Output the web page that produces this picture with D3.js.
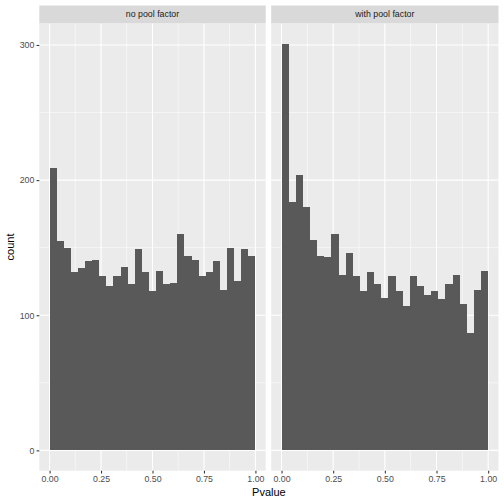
<!doctype html>
<html>
<head>
<meta charset="utf-8">
<script src="https://d3js.org/d3.v7.min.js"></script>
<style>
  body { margin: 0; background: #fff; }
  text { font-family: "Liberation Sans", Arial, sans-serif; }
</style>
</head>
<body>
<div id="chart"></div>
<script>
// facet labels and counts per bin (29 bins over 0..1)
var facets = ["no pool factor", "with pool factor"];
var noPool = [209, 155, 150, 132, 135, 140, 141, 129, 122, 129, 136, 123, 149, 132, 118,
              133, 123, 124, 160, 144, 141, 129, 132, 140, 119, 150, 125, 149, 144];
var withPool = [301, 184, 204, 180, 156, 144, 143, 160, 130, 146, 129, 118, 132, 123, 113,
                129, 118, 107, 129, 122, 115, 118, 112, 123, 130, 108, 87, 119, 133];
var xTicks = [0, 0.25, 0.5, 0.75, 1];
var xMinor = [0.125, 0.375, 0.625, 0.875];
var yTicks = [0, 100, 200, 300];
var yMinor = [50, 150, 250];

var nBins = noPool.length;
var series = [noPool, withPool];

var W = 504, H = 504;
var panelTop = 23.3, panelBottom = 470.7;
var stripTop = 5.5;
var panels = [[39.3, 265.7], [271.2, 498.5]];

var svg = d3.select("#chart").append("svg")
    .attr("width", W)
    .attr("height", H);

var y = d3.scaleLinear()
    .domain([-0.05 * 301, 301 * 1.05])
    .range([panelBottom, panelTop]);

panels.forEach(function(p, k) {
  var x = d3.scaleLinear().domain([-0.05, 1.05]).range(p);
  var g = svg.append("g");

  // panel background
  g.append("rect")
      .attr("x", p[0]).attr("y", panelTop)
      .attr("width", p[1] - p[0]).attr("height", panelBottom - panelTop)
      .attr("fill", "#EBEBEB");

  // minor grid
  g.selectAll(".xminor").data(xMinor).enter().append("line")
      .attr("x1", d => x(d)).attr("x2", d => x(d))
      .attr("y1", panelTop).attr("y2", panelBottom)
      .attr("stroke", "#fff").attr("stroke-width", 0.53);
  g.selectAll(".yminor").data(yMinor).enter().append("line")
      .attr("x1", p[0]).attr("x2", p[1])
      .attr("y1", d => y(d)).attr("y2", d => y(d))
      .attr("stroke", "#fff").attr("stroke-width", 0.53);

  // major grid
  g.selectAll(".xmajor").data(xTicks).enter().append("line")
      .attr("x1", d => x(d)).attr("x2", d => x(d))
      .attr("y1", panelTop).attr("y2", panelBottom)
      .attr("stroke", "#fff").attr("stroke-width", 1.07);
  g.selectAll(".ymajor").data(yTicks).enter().append("line")
      .attr("x1", p[0]).attr("x2", p[1])
      .attr("y1", d => y(d)).attr("y2", d => y(d))
      .attr("stroke", "#fff").attr("stroke-width", 1.07);

  // bars
  g.selectAll(".bar").data(series[k]).enter().append("rect")
      .attr("x", (d, i) => x(i / nBins))
      .attr("width", (d, i) => x((i + 1) / nBins) - x(i / nBins))
      .attr("y", d => y(d))
      .attr("height", d => y(0) - y(d))
      .attr("fill", "#595959")
      .attr("shape-rendering", "crispEdges");

  // strip
  g.append("rect")
      .attr("x", p[0]).attr("y", stripTop)
      .attr("width", p[1] - p[0]).attr("height", panelTop - stripTop)
      .attr("fill", "#D9D9D9");
  g.append("text")
      .attr("x", (p[0] + p[1]) / 2).attr("y", (stripTop + panelTop) / 2)
      .attr("dy", "0.35em")
      .attr("text-anchor", "middle")
      .attr("font-size", 8.8)
      .attr("fill", "#1A1A1A")
      .text(facets[k]);

  // x axis
  var xa = g.append("g")
      .attr("transform", "translate(0," + panelBottom + ")")
      .call(d3.axisBottom(x).tickValues(xTicks).tickFormat(d3.format(".2f"))
            .tickSize(2.75).tickPadding(2.2));
  xa.select(".domain").remove();
  xa.selectAll("line").attr("stroke", "#333333").attr("stroke-width", 1.07);
  xa.selectAll("text").attr("font-size", 8.8).attr("fill", "#4D4D4D")
      .attr("font-family", "'Liberation Sans', Arial, sans-serif");
});

// y axis
var ya = svg.append("g")
    .attr("transform", "translate(" + panels[0][0] + ",0)")
    .call(d3.axisLeft(y).tickValues(yTicks).tickSize(2.75).tickPadding(2.2));
ya.select(".domain").remove();
ya.selectAll("line").attr("stroke", "#333333").attr("stroke-width", 1.07);
ya.selectAll("text").attr("font-size", 8.8).attr("fill", "#4D4D4D")
    .attr("font-family", "'Liberation Sans', Arial, sans-serif");

// axis titles
svg.append("text")
    .attr("x", (panels[0][0] + panels[1][1]) / 2)
    .attr("y", 495.5)
    .attr("text-anchor", "middle")
    .attr("font-size", 11)
    .attr("fill", "#000")
    .text("Pvalue");
svg.append("text")
    .attr("transform", "translate(14," + (panelTop + panelBottom) / 2 + ") rotate(-90)")
    .attr("text-anchor", "middle")
    .attr("font-size", 11)
    .attr("fill", "#000")
    .text("count");
</script>
</body>
</html>
